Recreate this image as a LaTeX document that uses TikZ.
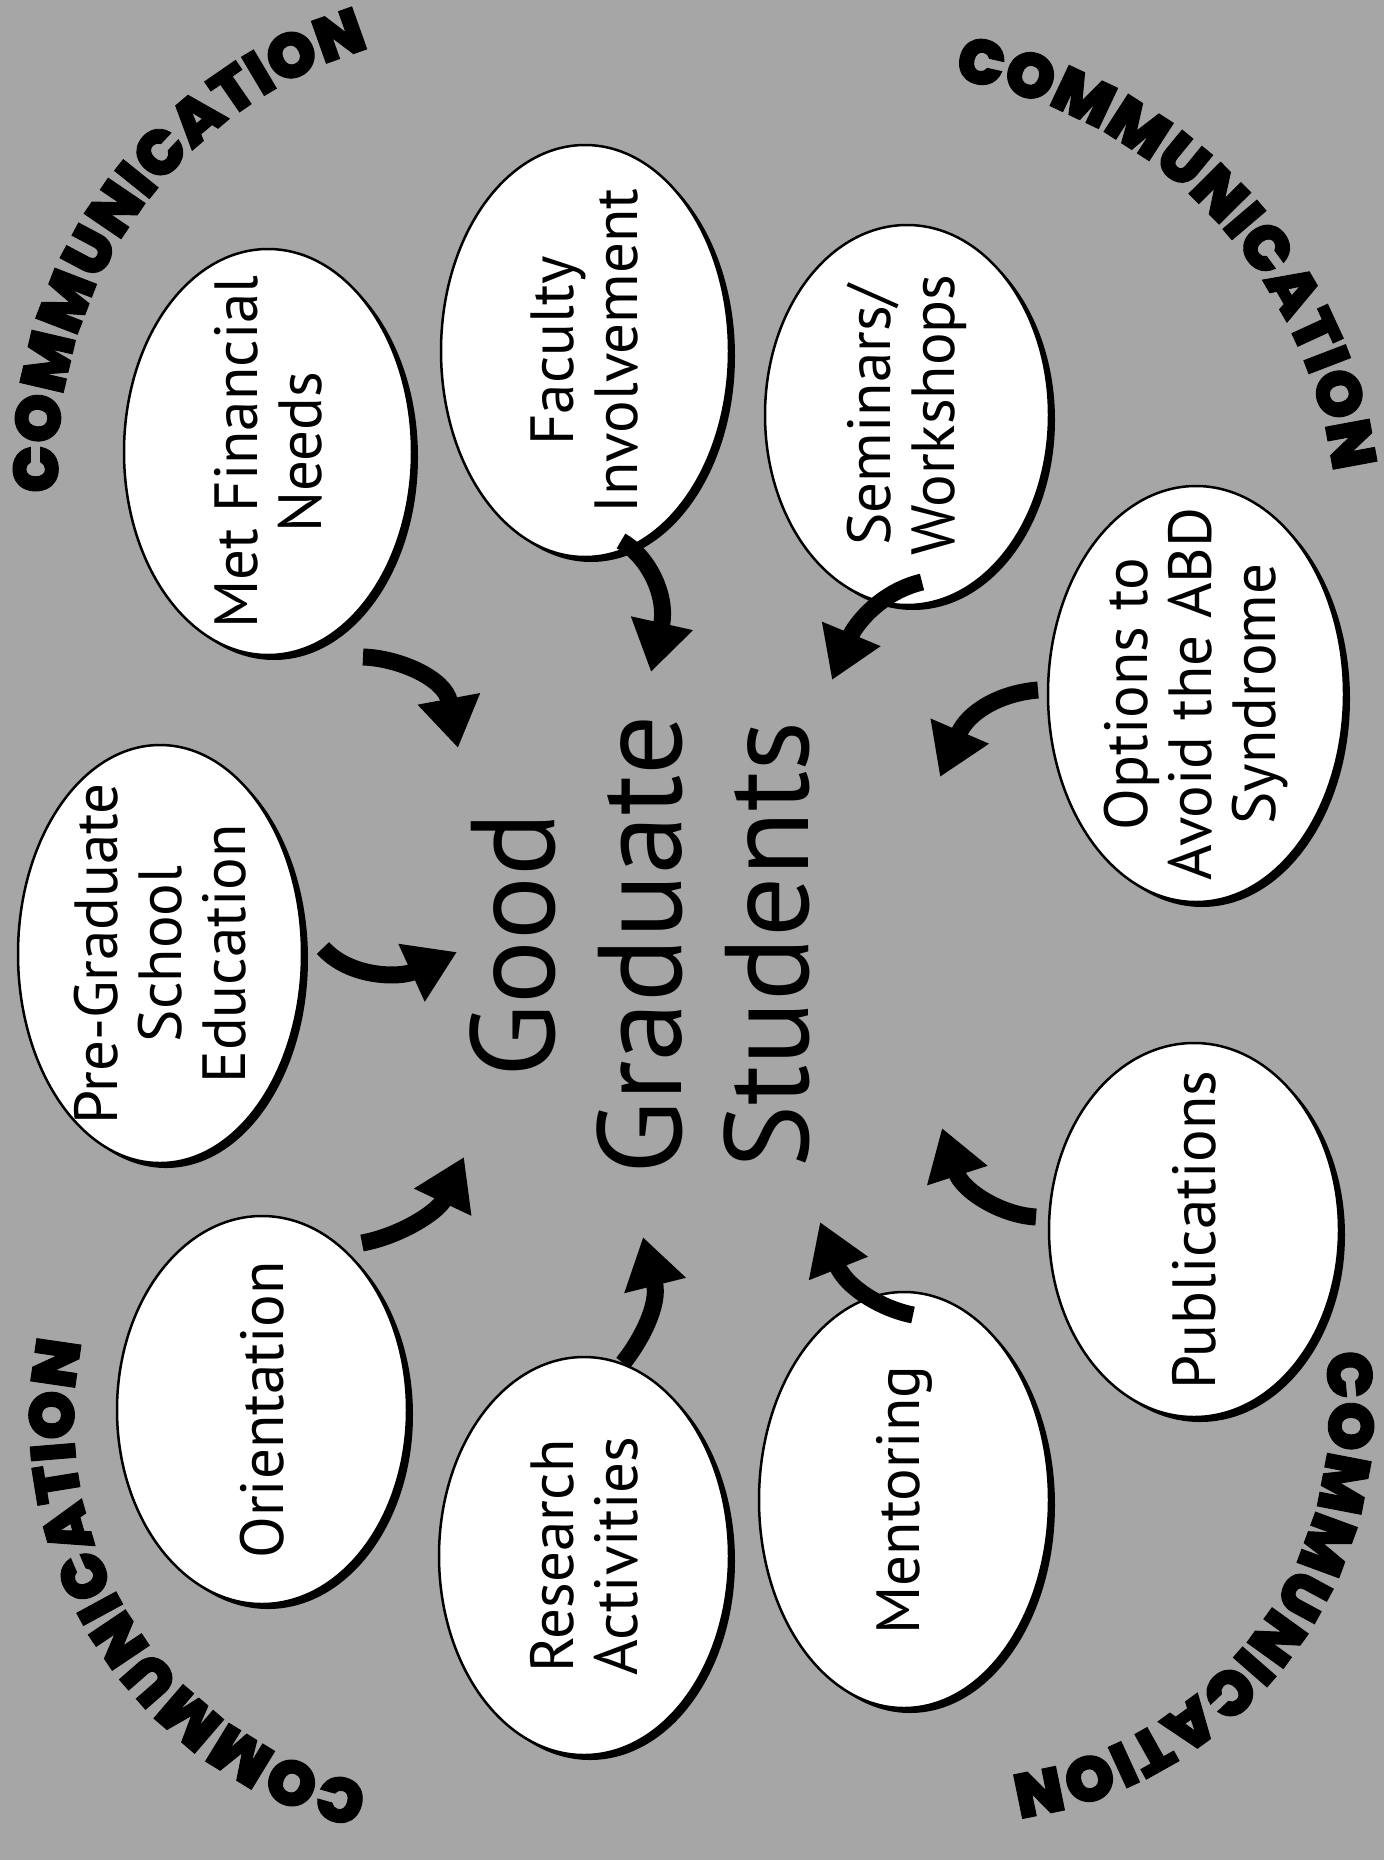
\documentclass[tikz,border=0pt]{standalone}
\usepackage{fontspec}
\setmainfont{PT Sans}
\newfontfamily\commfont[FakeBold=1.5]{Poppins Black}
\usetikzlibrary{shapes.geometric, arrows.meta, decorations.text, shadows}
\definecolor{bggray}{RGB}{166,166,166}
\begin{document}
\begin{tikzpicture}[x=1pt, y=-1pt,
  bub/.style={ellipse, draw=black, line width=2.5pt, fill=white, inner sep=0pt,
    drop shadow={shadow xshift=6pt, shadow yshift=-5pt, fill=black, opacity=1}},
  lbl/.style={rotate=90, align=center, inner sep=0pt, font=\fontsize{61}{64}\selectfont},
  arr/.style={line width=17pt, -{Triangle[width=60pt,length=50pt]}},
  comm/.style={decorate, decoration={text along path, text align=center,
    text={|\commfont\fontsize{63}{63}\selectfont|COMMUNICATION}}}
]
\fill[bggray] (0,0) rectangle (1384,1860);
\useasboundingbox (0,0) rectangle (1384,1860);

% COMMUNICATION arcs
\path[comm] (492,465) ++(165:434) arc[start angle=165, end angle=265, radius=434];
\path[comm] (878,532) ++(266:459) arc[start angle=266, end angle=366, radius=459];
\path[comm] (961,1410) ++(341.7:368) arc[start angle=341.7, end angle=451.7, radius=368];
\path[comm] (446,1420) ++(92:372) arc[start angle=92, end angle=202, radius=372];

% bubbles
\node[bub, minimum width=284pt, minimum height=418pt] (pre) at (160,954) {};
\node[lbl] (prel) at (pre) {Pre-Graduate\\School\\Education};
\node[bub, minimum width=288pt, minimum height=406pt] (fin) at (268,452) {};
\node[lbl] (finl) at (fin) {Met Financial\\Needs};
\node[bub, minimum width=288pt, minimum height=412pt] (fac) at (585,351) {};
\node[lbl] (facl) at (fac) {Faculty\\Involvement};
\node[bub, minimum width=284pt, minimum height=380pt] (sem) at (907,415) {};
\node[lbl] (seml) at (sem) {Seminars/\\Workshops};
\node[bub, minimum width=296pt, minimum height=416pt] (opt) at (1196,694) {};
\node[lbl] (optl) at (opt) {Options to\\Avoid the ABD\\Syndrome};
\node[bub, minimum width=290pt, minimum height=374pt] (pub) at (1194,1230) {};
\node[lbl] (publ) at (pub) {Publications};
\node[bub, minimum width=290pt, minimum height=416pt] (men) at (904,1500) {};
\node[lbl] (menl) at (men) {Mentoring};
\node[bub, minimum width=290pt, minimum height=398pt] (res) at (584,1556) {};
\node[lbl] (resl) at (res) {Research\\Activities};
\node[bub, minimum width=290pt, minimum height=388pt] (ori) at (262,1410) {};
\node[lbl] (oril) at (ori) {Orientation};

% centre
\node[rotate=90, align=center, inner sep=0pt, font=\fontsize{119}{127}\selectfont] (good) at (640,945) {Good\\Graduate\\Students};

% arrow ends
\coordinate (t1) at (363,657);   \coordinate (h1) at (458,748);
\coordinate (t2) at (621,541);   \coordinate (h2) at (651,672);
\coordinate (t3) at (922,582);   \coordinate (h3) at (832,680);
\coordinate (t4) at (1038,690);  \coordinate (h4) at (940,777);
\coordinate (t5) at (323,948);   \coordinate (h5) at (457,952);
\coordinate (t6) at (362,1243);  \coordinate (h6) at (464,1157);
\coordinate (t7) at (623,1363);  \coordinate (h7) at (643,1237);
\coordinate (t8) at (913,1315);  \coordinate (h8) at (820,1222);
\coordinate (t9) at (1036,1217); \coordinate (h9) at (942,1128);

\draw[arr] (t1) .. controls (398,658) and (445,678) .. (h1);
\draw[arr] (t2) .. controls (648,556) and (668,596) .. (h2);
\draw[arr] (t3) .. controls (880,592) and (855,625) .. (h3);
\draw[arr] (t4) .. controls (1000,693) and (968,712) .. (h4);
\draw[arr] (t5) .. controls (350,978) and (400,978) .. (h5);
\draw[arr] (t6) .. controls (400,1236) and (438,1212) .. (h6);
\draw[arr] (t7) .. controls (640,1342) and (660,1305) .. (h7);
\draw[arr] (t8) .. controls (878,1308) and (845,1285) .. (h8);
\draw[arr] (t9) .. controls (1000,1215) and (962,1190) .. (h9);
\end{tikzpicture}
\end{document}
